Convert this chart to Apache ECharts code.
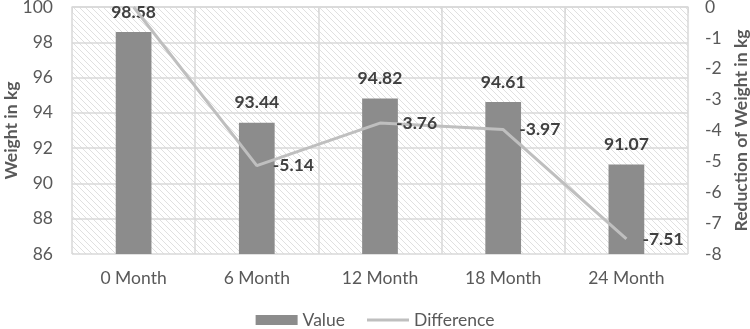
<!DOCTYPE html>
<html><head><meta charset="utf-8">
<script src="https://cdn.jsdelivr.net/npm/echarts@6/dist/echarts.min.js"></script>
<style>html,body{margin:0;padding:0;background:#fff}#c{width:750px;height:329px}</style>
</head><body><div id="c"></div>
<script>
const categories = ['0 Month','6 Month','12 Month','18 Month','24 Month'];
const valueData = [98.58, 93.44, 94.82, 94.61, 91.07];
const differenceData = [0, -5.14, -3.76, -3.97, -7.51];
const leftTicks = [86, 100, 2];
const rightTicks = [-8, 0, 1];

// hatch pattern
const P = 6;
const pc = document.createElement('canvas');
pc.width = P; pc.height = P;
const g = pc.getContext('2d');
g.fillStyle = '#ffffff'; g.fillRect(0,0,P,P);
g.strokeStyle = '#e0e0e0'; g.lineWidth = 1;
g.beginPath();
g.moveTo(0,0); g.lineTo(P,P);
g.moveTo(-P,0); g.lineTo(P,2*P);
g.moveTo(0,-P); g.lineTo(2*P,P);
g.stroke();

const font = 'Lato, "Open Sans", sans-serif';
const FS = 17.5;
const chart = echarts.init(document.getElementById('c'));
chart.setOption({
  animation: false,
  textStyle: {fontFamily: font},
  grid: {left: 72, right: 62, top: 7, bottom: 75, show: true, borderWidth: 0,
    outerBoundsMode: 'none', containLabel: false,
    backgroundColor: {image: pc, repeat: 'repeat'}},
  legend: {top: 306, left: 'center', itemGap: 22, itemWidth: 42, itemHeight: 10,
    textStyle: {fontSize: FS, color: '#595959', fontFamily: font},
    data: [{name: 'Value', icon: 'rect'},
           {name: 'Difference', icon: 'path://M0,0L44,0L44,3L0,3Z'}]},
  xAxis: {type: 'category', data: categories,
    axisLine: {lineStyle: {color: '#d9d9d9', width: 1.5}},
    axisTick: {show: true, length: 6, lineStyle: {color: '#d9d9d9'}},
    splitLine: {show: true, lineStyle: {color: '#d9d9d9', width: 1.5}},
    axisLabel: {fontSize: FS, color: '#595959', margin: 15, fontFamily: font}},
  yAxis: [
    {type: 'value', min: leftTicks[0], max: leftTicks[1], interval: leftTicks[2],
     name: 'Weight in kg', nameLocation: 'middle', nameGap: 52, nameMoveOverlap: false,
     nameTextStyle: {fontSize: FS, fontWeight: 'bold', color: '#595959', fontFamily: font},
     axisLine: {show: false}, axisTick: {show: false},
     splitLine: {lineStyle: {color: '#d9d9d9', width: 1.5}},
     axisLabel: {fontSize: FS, color: '#595959', margin: 19, fontFamily: font}},
    {type: 'value', min: rightTicks[0], max: rightTicks[1], interval: rightTicks[2],
     name: 'Reduction of Weight in kg', nameLocation: 'middle', nameGap: 44, nameRotate: 90,
     nameMoveOverlap: false,
     nameTextStyle: {fontSize: FS, fontWeight: 'bold', color: '#595959', fontFamily: font},
     axisLine: {show: false}, axisTick: {show: false}, splitLine: {show: false},
     axisLabel: {fontSize: FS, color: '#595959', margin: 17, fontFamily: font}}
  ],
  series: [
    {name: 'Value', type: 'bar', data: valueData, barWidth: '29%', yAxisIndex: 0,
     itemStyle: {color: '#8c8c8c'},
     label: {show: true, position: 'top', distance: 11, fontSize: FS, fontWeight: 'bold',
       color: '#404040', fontFamily: font, formatter: p => p.value.toFixed(2)}},
    {name: 'Difference', type: 'line', data: differenceData, yAxisIndex: 1,
     symbol: 'circle', symbolSize: 0.01, showSymbol: true,
     lineStyle: {color: '#bfbfbf', width: 3}, itemStyle: {color: '#bfbfbf'},
     label: {show: true, position: 'right', distance: 16, fontSize: FS, fontWeight: 'bold',
       color: '#404040', fontFamily: font,
       formatter: p => p.dataIndex === 0 ? '' : p.value.toFixed(2)}}
  ]
});
</script></body></html>
